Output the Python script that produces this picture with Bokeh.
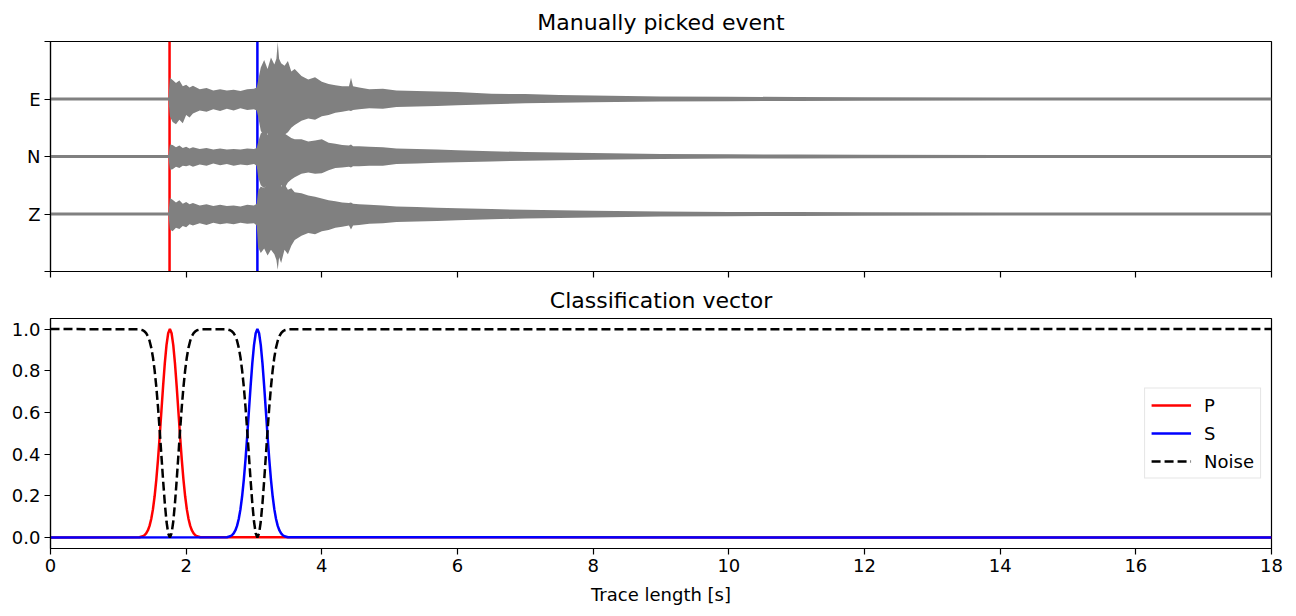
from bokeh.plotting import figure
from bokeh.layouts import column
from bokeh.models import Range1d, Span, FixedTicker, Legend, LegendItem
from bokeh.embed import file_html
from bokeh.resources import INLINE

# ---------------- data ----------------
p_pick = 1.755
s_pick = 3.05

channel_labels = ["Z", "N", "E"]
channel_offsets = [0, 1, 2]

# envelope of the three traces (time [s], upper / lower half-amplitude in trace spacing units)
t_env = [0.00, 1.74, 1.76, 1.80, 1.85, 1.90, 1.95, 2.00, 2.05, 2.10,
         2.20, 2.30, 2.40, 2.50, 2.60, 2.70, 2.80, 2.90, 3.00, 3.04,
         3.06, 3.10, 3.15, 3.20, 3.25, 3.30, 3.33, 3.35, 3.37, 3.40,
         3.45, 3.50, 3.55, 3.60, 3.70, 3.80, 3.90, 4.00, 4.10, 4.20,
         4.30, 4.40, 4.43, 4.46, 4.55, 4.70, 4.90, 5.10, 5.40, 5.70,
         6.00, 6.50, 7.00, 7.50, 8.00, 9.00, 10.00, 11.00, 12.00, 14.00, 16.00, 18.00]

e_up = [0.024, 0.024, 0.37, 0.33, 0.28, 0.32, 0.22, 0.25, 0.20, 0.23,
        0.17, 0.19, 0.15, 0.17, 0.15, 0.16, 0.14, 0.17, 0.18, 0.20,
        0.32, 0.55, 0.68, 0.52, 0.72, 0.60, 0.70, 0.99, 0.70, 0.62,
        0.58, 0.66, 0.48, 0.52, 0.40, 0.34, 0.38, 0.30, 0.26, 0.24,
        0.22, 0.22, 0.37, 0.22, 0.20, 0.17, 0.18, 0.15, 0.14, 0.13,
        0.12, 0.09, 0.085, 0.07, 0.06, 0.045, 0.04, 0.034, 0.03, 0.028, 0.028, 0.028]
e_lo = [0.024, 0.024, 0.30, 0.40, 0.44, 0.36, 0.42, 0.28, 0.32, 0.25,
        0.20, 0.22, 0.18, 0.21, 0.17, 0.20, 0.16, 0.19, 0.18, 0.20,
        0.30, 0.55, 0.65, 0.60, 0.66, 0.62, 0.66, 0.64, 0.62, 0.60,
        0.62, 0.58, 0.50, 0.45, 0.38, 0.34, 0.36, 0.30, 0.28, 0.24,
        0.22, 0.20, 0.21, 0.19, 0.18, 0.16, 0.17, 0.14, 0.13, 0.12,
        0.11, 0.09, 0.075, 0.065, 0.055, 0.045, 0.038, 0.034, 0.03, 0.028, 0.028, 0.028]
n_up = [0.024, 0.024, 0.21, 0.20, 0.16, 0.19, 0.15, 0.17, 0.14, 0.16,
        0.13, 0.15, 0.12, 0.14, 0.12, 0.13, 0.12, 0.14, 0.13, 0.15,
        0.25, 0.40, 0.45, 0.38, 0.50, 0.42, 0.48, 0.45, 0.40, 0.42,
        0.40, 0.36, 0.32, 0.30, 0.30, 0.26, 0.28, 0.30, 0.24, 0.22,
        0.20, 0.19, 0.21, 0.18, 0.18, 0.17, 0.16, 0.14, 0.13, 0.12,
        0.11, 0.09, 0.08, 0.07, 0.06, 0.045, 0.038, 0.034, 0.03, 0.028, 0.028, 0.028]
n_lo = [0.024, 0.024, 0.23, 0.22, 0.18, 0.20, 0.16, 0.17, 0.15, 0.18,
        0.14, 0.16, 0.12, 0.15, 0.13, 0.16, 0.14, 0.15, 0.13, 0.16,
        0.35, 0.50, 0.55, 0.48, 0.58, 0.52, 0.62, 0.55, 0.60, 0.50,
        0.55, 0.45, 0.40, 0.36, 0.30, 0.28, 0.30, 0.29, 0.24, 0.20,
        0.19, 0.18, 0.19, 0.17, 0.17, 0.16, 0.16, 0.13, 0.12, 0.11,
        0.10, 0.085, 0.075, 0.065, 0.055, 0.045, 0.035, 0.034, 0.03, 0.028, 0.028, 0.028]
z_up = [0.024, 0.024, 0.28, 0.25, 0.20, 0.24, 0.18, 0.21, 0.17, 0.19,
        0.15, 0.17, 0.14, 0.16, 0.14, 0.15, 0.13, 0.16, 0.15, 0.18,
        0.40, 0.48, 0.45, 0.55, 0.50, 0.52, 0.58, 0.50, 0.55, 0.48,
        0.52, 0.42, 0.45, 0.38, 0.36, 0.32, 0.30, 0.27, 0.24, 0.22,
        0.20, 0.19, 0.20, 0.18, 0.17, 0.16, 0.15, 0.13, 0.12, 0.11,
        0.10, 0.085, 0.075, 0.065, 0.055, 0.045, 0.035, 0.034, 0.03, 0.028, 0.028, 0.028]
z_lo = [0.024, 0.024, 0.27, 0.30, 0.24, 0.26, 0.21, 0.23, 0.18, 0.20,
        0.16, 0.19, 0.15, 0.18, 0.16, 0.18, 0.15, 0.17, 0.16, 0.20,
        0.58, 0.68, 0.60, 0.72, 0.62, 0.70, 0.80, 0.97, 0.75, 0.85,
        0.62, 0.70, 0.55, 0.45, 0.38, 0.33, 0.35, 0.30, 0.28, 0.24,
        0.22, 0.20, 0.27, 0.20, 0.19, 0.17, 0.16, 0.14, 0.13, 0.12,
        0.11, 0.09, 0.08, 0.07, 0.06, 0.045, 0.038, 0.034, 0.03, 0.028, 0.028, 0.028]

# classification vector
p_t = [0.0, 1.31, 1.36, 1.385, 1.41, 1.435, 1.46, 1.485, 1.51, 1.535, 1.56, 1.585,
       1.61, 1.635, 1.66, 1.685, 1.71, 1.735, 1.76, 1.785, 1.81, 1.835, 1.86, 1.885,
       1.91, 1.935, 1.96, 1.985, 2.01, 2.035, 2.06, 2.085, 2.11, 2.135, 2.16, 2.21, 18.0]
p_v = [0.0, 0.0015, 0.006, 0.011, 0.020, 0.034, 0.056, 0.089, 0.135, 0.198, 0.278, 0.375,
       0.487, 0.607, 0.726, 0.835, 0.923, 0.980, 1.0, 0.980, 0.923, 0.835, 0.726, 0.607,
       0.487, 0.375, 0.278, 0.198, 0.135, 0.089, 0.056, 0.034, 0.020, 0.011, 0.006, 0.0015, 0.0]
s_t = [0.0, 2.60, 2.65, 2.675, 2.70, 2.725, 2.75, 2.775, 2.80, 2.825, 2.85, 2.875,
       2.90, 2.925, 2.95, 2.975, 3.00, 3.025, 3.05, 3.075, 3.10, 3.125, 3.15, 3.175,
       3.20, 3.225, 3.25, 3.275, 3.30, 3.325, 3.35, 3.375, 3.40, 3.425, 3.45, 3.50, 18.0]
s_v = [0.0, 0.0015, 0.006, 0.011, 0.020, 0.034, 0.056, 0.089, 0.135, 0.198, 0.278, 0.375,
       0.487, 0.607, 0.726, 0.835, 0.923, 0.980, 1.0, 0.980, 0.923, 0.835, 0.726, 0.607,
       0.487, 0.375, 0.278, 0.198, 0.135, 0.089, 0.056, 0.034, 0.020, 0.011, 0.006, 0.0015, 0.0]
noise_t = [0.0, 1.31, 1.36, 1.385, 1.41, 1.435, 1.46, 1.485, 1.51, 1.535, 1.56, 1.585,
           1.61, 1.635, 1.66, 1.685, 1.71, 1.735, 1.76, 1.785, 1.81, 1.835, 1.86, 1.885,
           1.91, 1.935, 1.96, 1.985, 2.01, 2.035, 2.06, 2.085, 2.11, 2.135, 2.16, 2.21,
           2.60, 2.65, 2.675, 2.70, 2.725, 2.75, 2.775, 2.80, 2.825, 2.85, 2.875,
           2.90, 2.925, 2.95, 2.975, 3.00, 3.025, 3.05, 3.075, 3.10, 3.125, 3.15, 3.175,
           3.20, 3.225, 3.25, 3.275, 3.30, 3.325, 3.35, 3.375, 3.40, 3.425, 3.45, 3.50, 18.0]
noise_v = [1.0, 0.9985, 0.994, 0.989, 0.980, 0.966, 0.944, 0.911, 0.865, 0.802, 0.722, 0.625,
           0.513, 0.393, 0.274, 0.165, 0.077, 0.020, 0.0, 0.020, 0.077, 0.165, 0.274, 0.393,
           0.513, 0.625, 0.722, 0.802, 0.865, 0.911, 0.944, 0.966, 0.980, 0.989, 0.994, 0.9985,
           0.9985, 0.994, 0.989, 0.980, 0.966, 0.944, 0.911, 0.865, 0.802, 0.722, 0.625,
           0.513, 0.393, 0.274, 0.165, 0.077, 0.020, 0.0, 0.020, 0.077, 0.165, 0.274, 0.393,
           0.513, 0.625, 0.722, 0.802, 0.865, 0.911, 0.944, 0.966, 0.980, 0.989, 0.994, 0.9985, 1.0]

x_ticks = [0, 2, 4, 6, 8, 10, 12, 14, 16, 18]
y_ticks_bottom = [0.0, 0.2, 0.4, 0.6, 0.8, 1.0]

FONT = "DejaVu Sans"
TXT = "18px"
LW = 2.5


def style(p, title_standoff):
    p.xgrid.visible = False
    p.ygrid.visible = False
    p.outline_line_color = "black"
    p.outline_line_width = 1.2
    p.background_fill_color = "white"
    p.border_fill_color = "white"
    for ax in (p.xaxis[0], p.yaxis[0]):
        ax.axis_line_color = "black"
        ax.axis_line_width = 1.2
        ax.major_tick_line_color = "black"
        ax.major_tick_line_width = 1.2
        ax.major_tick_in = 0
        ax.major_tick_out = 6
        ax.minor_tick_line_color = "black"
        ax.minor_tick_line_width = 1.2
        ax.minor_tick_in = 0
        ax.minor_tick_out = 6
        ax.major_label_text_font = FONT
        ax.major_label_text_font_size = TXT
        ax.major_label_text_color = "black"
        ax.major_label_standoff = 4
    p.title.align = "center"
    p.title.text_font = FONT
    p.title.text_font_size = "22px"
    p.title.text_font_style = "normal"
    p.title.text_color = "black"
    p.title.standoff = title_standoff


# ---------------- top panel ----------------
p1 = figure(width=1296, height=279, x_range=Range1d(0, 18), y_range=Range1d(-1, 3),
            output_backend="svg", toolbar_location=None,
            min_border_left=50, min_border_right=25, min_border_top=41, min_border_bottom=8,
            title="Manually picked event")
style(p1, 14)
p1.xaxis.ticker = FixedTicker(ticks=[], minor_ticks=x_ticks)
p1.xaxis.major_label_standoff = 0
p1.yaxis.ticker = FixedTicker(ticks=channel_offsets, minor_ticks=[-1, 3])
p1.yaxis.major_label_overrides = {o: l for o, l in zip(channel_offsets, channel_labels)}

p1.add_layout(Span(location=p_pick, dimension="height", line_color="red", line_width=LW, level="underlay"))
p1.add_layout(Span(location=s_pick, dimension="height", line_color="blue", line_width=LW, level="underlay"))

for off, up, lo in [(2, e_up, e_lo), (1, n_up, n_lo), (0, z_up, z_lo)]:
    p1.varea(x=t_env, y1=[off - v for v in lo], y2=[off + v for v in up],
             fill_color="gray", fill_alpha=1.0)

# ---------------- bottom panel ----------------
p2 = figure(width=1296, height=337, x_range=p1.x_range, y_range=Range1d(-0.0525, 1.0505),
            output_backend="svg", toolbar_location=None,
            min_border_left=50, min_border_right=25, min_border_top=38, min_border_bottom=68,
            title="Classification vector")
style(p2, 12)
p2.xaxis.ticker = FixedTicker(ticks=x_ticks)
p2.yaxis.ticker = FixedTicker(ticks=y_ticks_bottom)
p2.yaxis.major_label_overrides = {v: f"{v:.1f}" for v in y_ticks_bottom}
p2.xaxis.axis_label = "Trace length [s]"
p2.xaxis.axis_label_text_font = FONT
p2.xaxis.axis_label_text_font_size = TXT
p2.xaxis.axis_label_text_font_style = "normal"
p2.xaxis.axis_label_text_color = "black"
p2.xaxis.axis_label_standoff = 9

r_p = p2.line(p_t, p_v, line_color="red", line_width=LW)
r_s = p2.line(s_t, s_v, line_color="blue", line_width=LW)
r_n = p2.line(noise_t, noise_v, line_color="black", line_width=LW, line_dash="9 4")

legend = Legend(items=[LegendItem(label="P", renderers=[r_p]),
                       LegendItem(label="S", renderers=[r_s]),
                       LegendItem(label="Noise", renderers=[r_n])],
                location="center_right")
legend.label_text_font = FONT
legend.label_text_font_size = TXT
legend.label_text_color = "black"
legend.glyph_width = 40
legend.glyph_height = 21
legend.label_height = 21
legend.spacing = 7
legend.padding = 6
legend.margin = 10
legend.label_standoff = 13
legend.border_line_color = "#cccccc"
legend.background_fill_alpha = 0.8
p2.add_layout(legend)

layout = column(p1, p2)
open("out.html", "w").write(file_html(layout, INLINE))
